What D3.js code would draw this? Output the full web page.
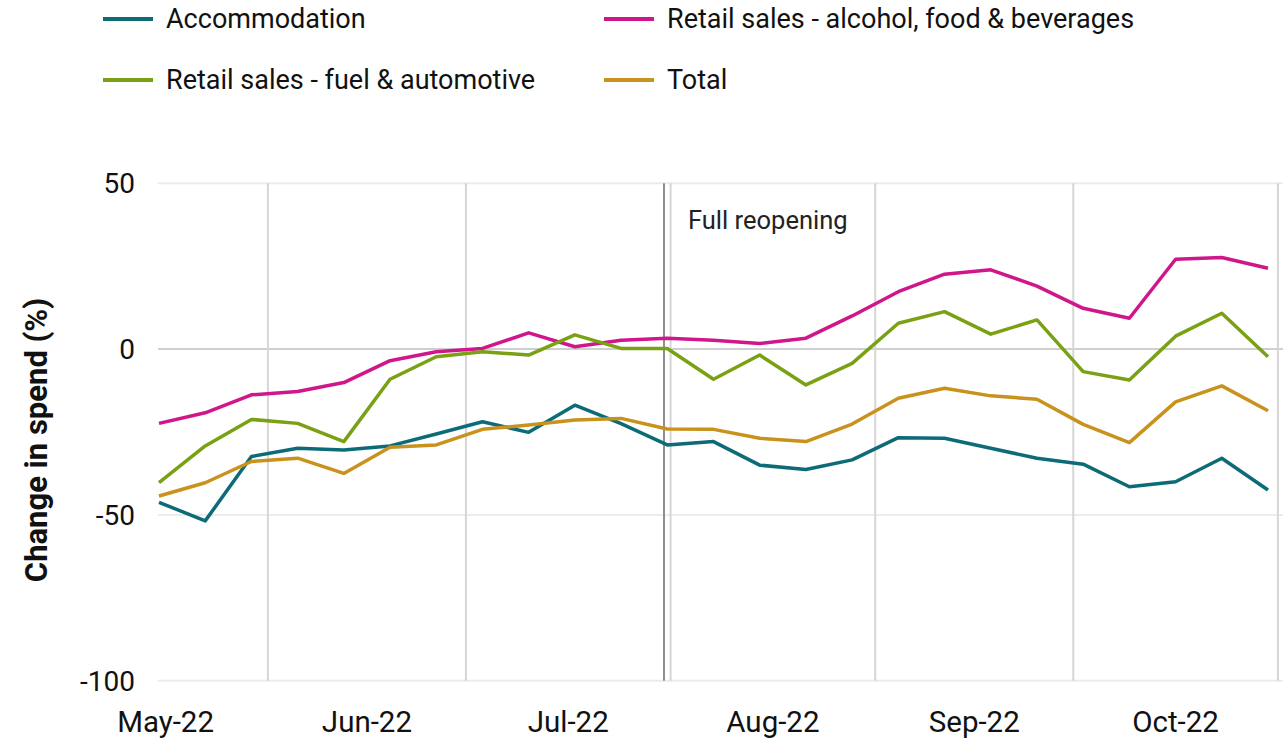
<!DOCTYPE html>
<html>
<head>
<meta charset="utf-8">
<script src="https://cdn.jsdelivr.net/npm/d3@7"></script>
<style>
  html, body { margin: 0; padding: 0; background: #fff; }
  svg { display: block; font-family: Roboto, "Noto Sans", sans-serif; }
</style>
</head>
<body>
<svg id="chart" width="1283" height="740"></svg>
<script>
// ---- Data ----
const weeks = [
  "2022-05-16","2022-05-23","2022-05-30","2022-06-06","2022-06-13","2022-06-20","2022-06-27",
  "2022-07-04","2022-07-11","2022-07-18","2022-07-25","2022-08-01","2022-08-08","2022-08-15",
  "2022-08-22","2022-08-29","2022-09-05","2022-09-12","2022-09-19","2022-09-26","2022-10-03",
  "2022-10-10","2022-10-17","2022-10-24","2022-10-31"
];
const accommodation = [-46.2,-51.8,-32.4,-29.9,-30.4,-29.2,-25.6,-21.9,-25.1,-16.9,-22.5,-28.9,-27.9,-35.0,-36.3,-33.4,-26.7,-26.9,-29.9,-32.9,-34.7,-41.5,-40.0,-32.9,-42.5];
const retailFood = [-22.4,-19.2,-13.8,-12.8,-10.1,-3.5,-0.8,0.2,4.9,0.7,2.7,3.3,2.7,1.7,3.3,10.0,17.3,22.6,23.9,19.0,12.3,9.3,27.1,27.6,24.4];
const retailFuel = [-40.3,-29.2,-21.2,-22.4,-27.9,-9.1,-2.3,-0.8,-1.8,4.3,0.2,0.2,-9.1,-1.8,-10.8,-4.3,7.8,11.3,4.5,8.8,-6.8,-9.3,3.9,10.8,-2.3];
const total = [-44.3,-40.3,-33.9,-32.9,-37.5,-29.6,-28.9,-24.2,-22.9,-21.4,-20.9,-24.1,-24.2,-26.9,-27.9,-22.6,-14.8,-11.8,-14.1,-15.1,-22.7,-28.2,-15.9,-11.1,-18.6];

const seriesNames = ["Accommodation", "Retail sales - alcohol, food & beverages", "Retail sales - fuel & automotive", "Total"];
const seriesColors = ["#0d6b78", "#d0168b", "#7aa013", "#c8921c"];
const yTicks = [50, 0, -50, -100];
const monthStarts = ["2022-05-01","2022-06-01","2022-07-01","2022-08-01","2022-09-01","2022-10-01","2022-11-01"];
const monthLabels = ["May-22","Jun-22","Jul-22","Aug-22","Sep-22","Oct-22"];
const reopenDate = "2022-07-31";
const reopenLabel = "Full reopening";
const yTitle = "Change in spend (%)";

// ---- Build ----
const svg = d3.select("#chart");
const parse = s => new Date(s + "T00:00:00Z");
const dates = weeks.map(parse);
const seriesValues = [accommodation, retailFood, retailFuel, total];

const x = d3.scaleUtc().domain([dates[0], dates[dates.length - 1]]).range([159, 1268]);
const y = d3.scaleLinear().domain([-100, 50]).range([680.7, 183.3]);
const dayMark = s => d3.utcHour.offset(parse(s), 12);

const plotLeft = 158, plotRight = 1283;

// horizontal gridlines
svg.append("g").selectAll("line").data(yTicks).join("line")
  .attr("x1", plotLeft).attr("x2", plotRight)
  .attr("y1", d => y(d)).attr("y2", d => y(d))
  .attr("stroke", d => d === 0 ? "#cfcfcf" : "#ececec")
  .attr("stroke-width", 2);

// vertical gridlines at month boundaries (skip first, off-plot)
svg.append("g").selectAll("line").data(monthStarts.slice(1)).join("line")
  .attr("x1", d => x(dayMark(d))).attr("x2", d => x(dayMark(d)))
  .attr("y1", y(50)).attr("y2", y(-100))
  .attr("stroke", "#d6d6d6").attr("stroke-width", 2);

// reopening line
svg.append("line")
  .attr("x1", x(dayMark(reopenDate))).attr("x2", x(dayMark(reopenDate)))
  .attr("y1", y(50)).attr("y2", y(-100))
  .attr("stroke", "#8e8e8e").attr("stroke-width", 2);
svg.append("text")
  .attr("x", x(dayMark(reopenDate)) + 24).attr("y", y(50) + 46)
  .attr("font-size", 25.5).attr("fill", "#222")
  .text(reopenLabel);

// y tick labels
svg.append("g").selectAll("text").data(yTicks).join("text")
  .attr("x", 135).attr("y", d => y(d)).attr("dy", "0.35em")
  .attr("text-anchor", "end").attr("font-size", 28).attr("fill", "#111")
  .text(d => d);

// month labels centred in month bands
svg.append("g").selectAll("text").data(monthLabels).join("text")
  .attr("x", (d, i) => (x(dayMark(monthStarts[i])) + x(dayMark(monthStarts[i + 1]))) / 2)
  .attr("y", 732)
  .attr("text-anchor", "middle").attr("font-size", 29.5).attr("fill", "#111")
  .text(d => d);

// y title
svg.append("text")
  .attr("transform", `translate(47, ${(y(50) + y(-100)) / 2 + 8}) rotate(-90)`)
  .attr("text-anchor", "middle").attr("font-size", 31).attr("font-weight", "bold").attr("fill", "#111")
  .text(yTitle);

// lines
const line = d3.line().x((d, i) => x(dates[i])).y(d => y(d));
svg.append("g").selectAll("path").data(seriesValues).join("path")
  .attr("d", d => line(d))
  .attr("fill", "none")
  .attr("stroke", (d, i) => seriesColors[i])
  .attr("stroke-width", 3.5)
  .attr("stroke-linejoin", "round");

// legend
const legendPos = [[103, 19], [604, 19], [103, 80], [604, 80]];
const lg = svg.append("g").selectAll("g").data(seriesNames).join("g")
  .attr("transform", (d, i) => `translate(${legendPos[i][0]}, ${legendPos[i][1]})`);
lg.append("line").attr("x1", 0).attr("x2", 50).attr("y1", 0).attr("y2", 0)
  .attr("stroke", (d, i) => seriesColors[i]).attr("stroke-width", 4);
lg.append("text").attr("x", 63).attr("y", 0).attr("dy", "0.35em")
  .attr("font-size", 27).attr("fill", "#111")
  .text(d => d);
</script>
</body>
</html>
